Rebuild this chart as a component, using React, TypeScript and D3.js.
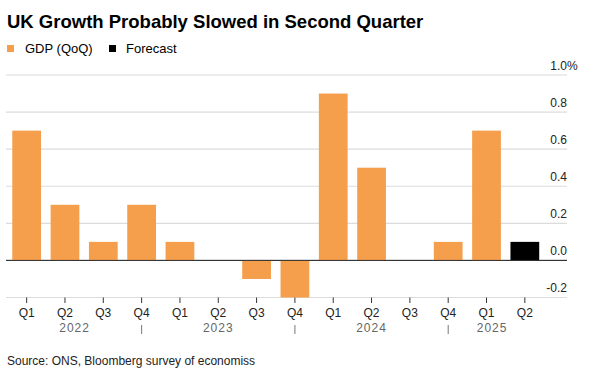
import React from "react";
import * as d3 from "d3";

const quarters = ["Q1", "Q2", "Q3", "Q4", "Q1", "Q2", "Q3", "Q4", "Q1", "Q2", "Q3", "Q4", "Q1", "Q2"];
const gdpValues = [0.7, 0.3, 0.1, 0.3, 0.1, 0.0, -0.1, -0.2, 0.9, 0.5, 0.0, 0.1, 0.7, 0.1];
const isForecast = [false, false, false, false, false, false, false, false, false, false, false, false, false, true];
const years = ["2022", "2023", "2024", "2025"];
const yTicks = [-0.2, 0, 0.2, 0.4, 0.6, 0.8, 1.0];

const W = 616;
const H = 380;
const FONT = "'Liberation Sans', Arial, Helvetica, sans-serif";
const ORANGE = "#f59e4c";

export default function App() {
  const x = d3
    .scaleBand<number>()
    .domain(d3.range(quarters.length))
    .range([7.5, 544])
    .paddingInner(0.25)
    .paddingOuter(0.125);
  const y = d3.scaleLinear().domain([-0.2, 1.0]).range([297.5, 75]);
  const cx = (i: number) => (x(i) as number) + x.bandwidth() / 2;
  const gridL = 6;
  const gridR = 567;

  // year separators under each Q4
  const q4Idx = [3, 7, 11];
  const seps = q4Idx.map(cx);
  const bounds = [7.5, ...seps, 536];

  return (
    <svg
      width={W}
      height={H}
      style={{ position: "absolute", left: 0, top: 0, background: "#fff" }}
      fontFamily={FONT}
    >
      <text x={7} y={28} fontSize={18.5} fontWeight="bold" fill="#000">
        UK Growth Probably Slowed in Second Quarter
      </text>
      {/* legend */}
      <rect x={7} y={45} width={7} height={7} fill={ORANGE} />
      <text x={25} y={52.5} fontSize={13} fill="#000">GDP (QoQ)</text>
      <rect x={109} y={45} width={7} height={7} fill="#000" />
      <text x={126} y={52.5} fontSize={13} fill="#000">Forecast</text>

      {/* gridlines */}
      {yTicks.map((t) => (
        <line
          key={"g" + t}
          x1={gridL}
          x2={gridR}
          y1={y(t)}
          y2={y(t)}
          stroke={t === 0 ? "#333" : "#dcdcdc"}
          strokeWidth={t === 0 ? 1 : 1.2}
        />
      ))}
      {/* y labels */}
      {yTicks.map((t) => (
        <g key={"l" + t}>
          <text x={gridR} y={y(t) - 5.5} fontSize={12} textAnchor="end" fill="#222">
            {t.toFixed(1)}
          </text>
          {t === 1.0 && (
            <text x={gridR} y={y(t) - 5.5} fontSize={12} fill="#222">%</text>
          )}
        </g>
      ))}

      {/* bars */}
      {gdpValues.map((v, i) => (
        <rect
          key={"b" + i}
          x={x(i)}
          width={x.bandwidth()}
          y={Math.min(y(v), y(0))}
          height={Math.abs(y(v) - y(0))}
          fill={isForecast[i] ? "#000" : ORANGE}
        />
      ))}
      {/* redraw zero line over bars */}
      <line x1={gridL} x2={gridR} y1={y(0)} y2={y(0)} stroke="#333" strokeWidth={1} />

      {/* x ticks & labels */}
      {quarters.map((q, i) => (
        <g key={"t" + i}>
          <line x1={cx(i)} x2={cx(i)} y1={297.5} y2={303} stroke="#333" strokeWidth={1} />
          <text x={cx(i)} y={316.5} fontSize={12} textAnchor="middle" fill="#222">
            {q}
          </text>
        </g>
      ))}
      {seps.map((s, i) => (
        <line key={"s" + i} x1={s} x2={s} y1={325} y2={334} stroke="#777" strokeWidth={1} />
      ))}
      {years.map((yr, i) => (
        <text
          key={"y" + yr}
          x={(bounds[i] + bounds[i + 1]) / 2}
          y={331.5}
          fontSize={12}
          textAnchor="middle"
          fill="#666"
          letterSpacing={1}
        >
          {yr}
        </text>
      ))}

      <text x={7} y={365} fontSize={12} fill="#222">
        Source: ONS, Bloomberg survey of economiss
      </text>
    </svg>
  );
}
